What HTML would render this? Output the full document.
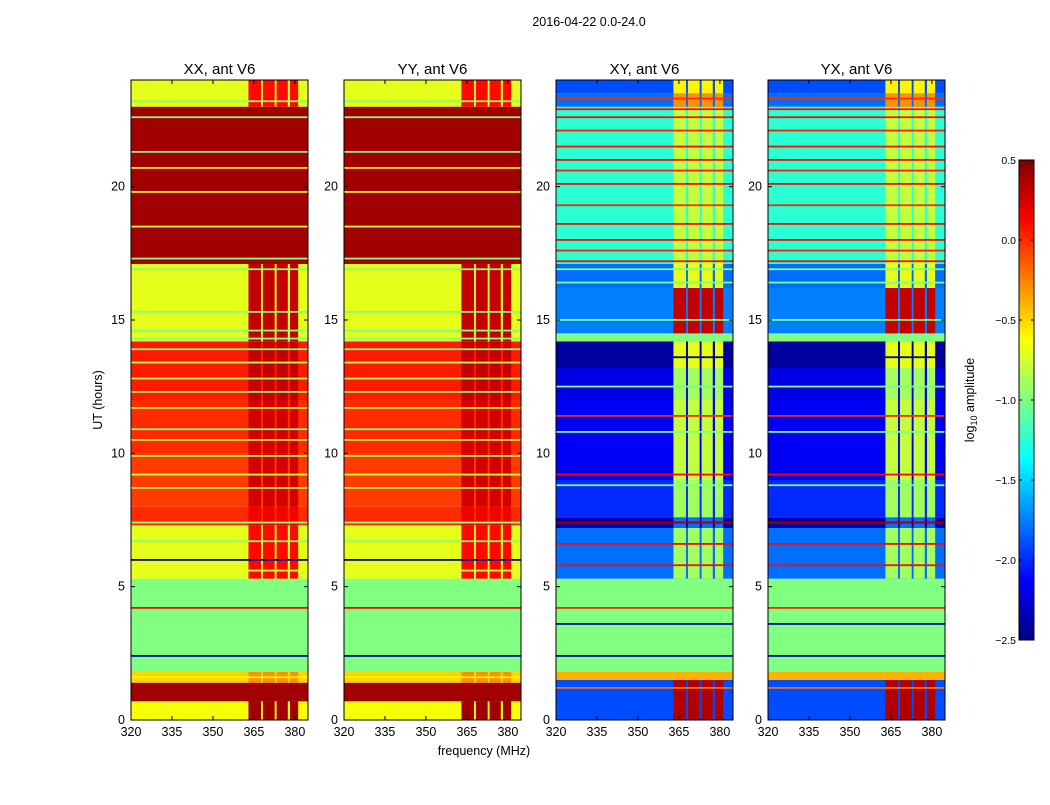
<!DOCTYPE html>
<html><head><meta charset="utf-8">
<style>
body{margin:0;background:#fff;}
svg text{font-family:"Liberation Sans",sans-serif;fill:#000;}
</style></head>
<body>
<svg id="fig" width="1050" height="800" xmlns="http://www.w3.org/2000/svg">
<rect width="1050" height="800" fill="#fff"/>
<text x="589" y="26" font-size="12.5" text-anchor="middle">2016-04-22 0.0-24.0</text>
<text x="0" y="0" font-size="12.5" text-anchor="middle" transform="translate(102,400) rotate(-90)">UT (hours)</text>
<text x="484" y="755" font-size="12.5" text-anchor="middle">frequency (MHz)</text>
<g id="panels"></g>
<g id="cbar"></g>
<text font-size="12.5" text-anchor="middle" transform="translate(974,400) rotate(-90)">log<tspan font-size="9" dy="3">10</tspan><tspan dy="-3"> amplitude</tspan></text>
</svg>
<script>
// ---- data ----
const titles = ["XX, ant V6","YY, ant V6","XY, ant V6","YX, ant V6"];
const xTicks = [320,335,350,365,380];
const yTicks = [0,5,10,15,20];
const cbTicks = [0.5,0.0,-0.5,-1.0,-1.5,-2.0,-2.5];
// parallel hands (XX, YY)
const parStart = [0,  0.7, 1.4, 1.8, 5.3, 7.3, 8.0, 10.0, 12.0, 14.2, 17.1, 23.0];
const parEnd   = [0.7,1.4, 1.8, 5.3, 7.3, 8.0, 10.0,12.0, 14.2, 17.1, 23.0, 24.0];
const parBase  = [-0.65,0.4,-0.5,-1.0,-0.7,0.0,-0.05,0.0,0.05,-0.7,0.4,-0.7];
const parRfi   = [0.4, 0.4,-0.3,-1.0,0.1,0.15,0.25,0.25,0.3,0.3,0.4,0.1];
const parLineT = [23.2,22.6,21.3,20.7,19.8,18.5,17.3,16.9,15.3,14.6,14.3,13.9,13.4,12.8,12.3,11.7,10.9,10.5,9.9,9.2,8.7,7.4,6.7,6.0,5.6,4.2,2.4,1.6];
const parLineV = [-1.0,-1.0,-1.0,-0.6,-0.7,-0.7,-1.0,-1.0,-1.0,-1.0,-1.0,-1.0,-0.8,-0.8,-1.0,-0.7,-1.0,-0.8,-0.9,-0.7,-0.8,-1.0,-1.0,-2.4,-0.7,0.1,-2.4,-0.6];
// cross hands (XY, YX)
const crsStart = [0,  1.5, 1.8, 5.3, 7.2, 7.6, 9.0, 12.0, 13.2, 14.2, 14.5, 16.2, 17.1, 23.0, 23.5];
const crsEnd   = [1.5,1.8, 5.3, 7.2, 7.6, 9.0, 12.0,13.2, 14.2, 14.5, 16.2, 17.1, 23.0, 23.5, 24.0];
const crsBase  = [-1.9,-0.4,-1.0,-1.8,-2.4,-2.0,-2.15,-2.2,-2.4,-1.0,-1.75,-1.8,-1.25,-1.8,-1.9];
const crsRfi   = [0.35,-0.4,-1.0,-0.9,-1.8,-0.9,-0.8,-0.9,-0.7,-1.0,0.3,-0.7,-0.8,-0.3,-0.6];
const crsLineT = [23.3,22.9,22.6,22.1,21.5,21.0,20.6,20.1,19.3,18.6,18.0,17.6,17.2,16.9,16.4,15.0,14.4,13.6,12.5,11.4,10.8,9.2,8.8,7.4,6.6,5.8,4.2,3.6,2.4,1.2];
const crsLineV = [0.0,0.1,0.1,0.05,0.1,0.1,0.05,0.1,0.0,0.1,0.1,0.05,0.1,-1.0,-1.0,-1.0,-1.0,-2.5,-1.0,0.0,-1.0,0.1,-1.0,0.4,0.1,0.1,0.0,-2.4,-2.4,-0.2];
// RFI frequency columns (MHz)
const rfiStart = [363.0,368.3,373.3,378.2];
const rfiEnd   = [367.6,372.6,377.4,381.2];

// ---- geometry ----
const panelX = [131,344,556,768], PW = 177, PT = 80, PB = 720;
const fMin = 320, fMax = 384.8, tMax = 24, vMin = -2.5, vMax = 0.5;
const NS = "http://www.w3.org/2000/svg";
function xs(p,f){return panelX[p] + (f-fMin)/(fMax-fMin)*PW;}
function ys(t){return PB - t/tMax*(PB-PT);}
function clamp(v){return Math.max(0,Math.min(1,v));}
function jet(v){const t=clamp((v-vMin)/(vMax-vMin));
  const r=clamp(1.5-Math.abs(4*t-3)),g=clamp(1.5-Math.abs(4*t-2)),b=clamp(1.5-Math.abs(4*t-1));
  return `rgb(${Math.round(r*255)},${Math.round(g*255)},${Math.round(b*255)})`;}
function el(tag,attrs,parent){const e=document.createElementNS(NS,tag);for(const k in attrs)e.setAttribute(k,attrs[k]);parent.appendChild(e);return e;}

const root=document.getElementById('panels');
for(let p=0;p<4;p++){
  const par = p<2;
  const S=par?parStart:crsStart,E=par?parEnd:crsEnd,B=par?parBase:crsBase,R=par?parRfi:crsRfi;
  const LT=par?parLineT:crsLineT,LV=par?parLineV:crsLineV;
  const g=el('g',{},root);
  
  
  for(let i=0;i<S.length;i++){
    const r=el('rect',{x:xs(p,fMin),y:ys(E[i]),width:PW,height:ys(S[i])-ys(E[i]),fill:jet(B[i])},g);
    
    
    for(let j=0;j<rfiStart.length;j++){
      const c=el('rect',{x:xs(p,rfiStart[j]),y:ys(E[i]),width:xs(p,rfiEnd[j])-xs(p,rfiStart[j]),height:ys(S[i])-ys(E[i]),fill:jet(R[i])},g);
      
      
    }
  }
  for(let i=0;i<LT.length;i++){
    const l=el('rect',{x:xs(p,fMin),y:ys(LT[i])-1,width:PW,height:1.8,fill:jet(LV[i])},g);
    
    
  }
  el('rect',{x:panelX[p],y:PT,width:PW,height:PB-PT,fill:'none',stroke:'#000','stroke-width':1},g);
  const tt=el('text',{x:panelX[p]+PW/2,y:74,'font-size':15,'text-anchor':'middle'},g);
  tt.textContent=titles[p];
  
  
  xTicks.forEach(f=>{const x=xs(p,f);
    el('line',{x1:x,x2:x,y1:PB,y2:PB-4,stroke:'#000'},g);
    el('line',{x1:x,x2:x,y1:PT,y2:PT+4,stroke:'#000'},g);
    const t=el('text',{x:x,y:PB+16,'font-size':12.5,'text-anchor':'middle'},g);t.textContent=f;
    
    });
  yTicks.forEach(v=>{const y=ys(v);
    el('line',{x1:panelX[p],x2:panelX[p]+4,y1:y,y2:y,stroke:'#000'},g);
    el('line',{x1:panelX[p]+PW,x2:panelX[p]+PW-4,y1:y,y2:y,stroke:'#000'},g);
    const t=el('text',{x:panelX[p]-6,y:y+4,'font-size':12.5,'text-anchor':'end'},g);t.textContent=v;
    
    });
}
// colorbar
const cb=document.getElementById('cbar');
const cbX=1019,cbW=15,cbT=160,cbB=640;
for(let i=0;i<240;i++){const v=vMax-(i+0.5)/240*(vMax-vMin);
  el('rect',{x:cbX,y:cbT+i*(cbB-cbT)/240,width:cbW,height:(cbB-cbT)/240+0.5,fill:jet(v)},cb);}
el('rect',{x:cbX,y:cbT,width:cbW,height:cbB-cbT,fill:'none',stroke:'#000'},cb);
cbTicks.forEach(v=>{const y=cbT+(vMax-v)/(vMax-vMin)*(cbB-cbT);
  el('line',{x1:cbX,x2:cbX+3,y1:y,y2:y,stroke:'#000'},cb);
  el('line',{x1:cbX+cbW-3,x2:cbX+cbW,y1:y,y2:y,stroke:'#000'},cb);
  const t=el('text',{x:cbX-3,y:y+4,'font-size':10.5,'text-anchor':'end'},cb);
  t.textContent=(v<0?'\u2212':'')+Math.abs(v).toFixed(1);
  
  });
</script>
</body></html>
